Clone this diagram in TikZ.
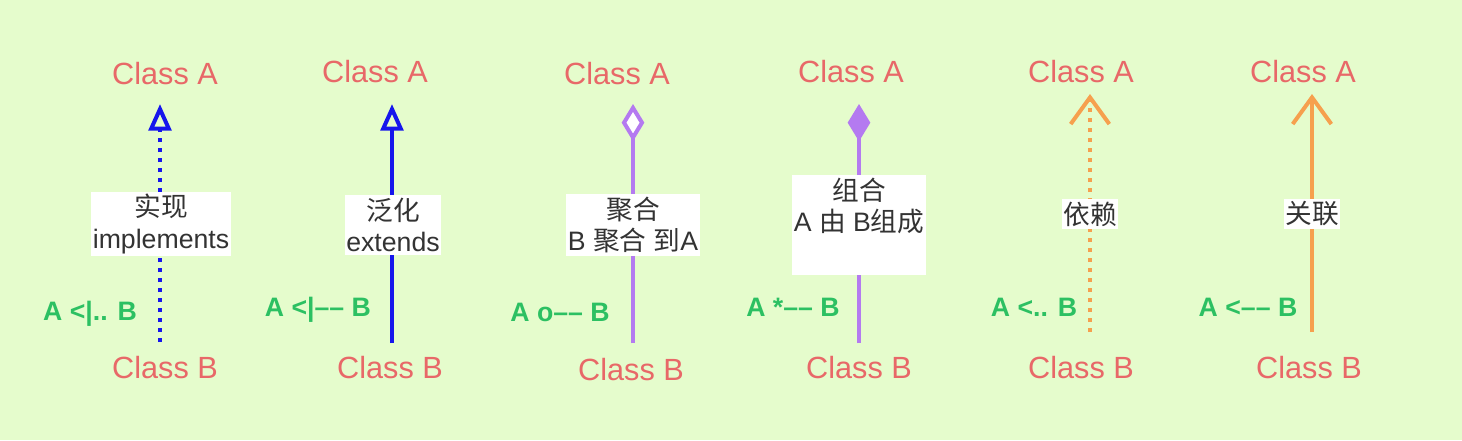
\documentclass[tikz,border=0pt]{standalone}
\usepackage{fontspec}
\setmainfont{Liberation Sans}
\newfontfamily\cjk{Noto Sans CJK SC}
\usetikzlibrary{arrows.meta}

\definecolor{bgGreen}{RGB}{229,252,204}
\definecolor{clsRed}{RGB}{232,104,104}
\definecolor{relGreen}{RGB}{44,192,98}
\definecolor{umlBlue}{RGB}{22,22,236}
\definecolor{umlPurple}{RGB}{180,122,240}
\definecolor{umlOrange}{RGB}{246,160,78}
\definecolor{noteGray}{RGB}{51,51,51}

\tikzset{
  cls/.style={text=clsRed, font=\fontsize{23}{27}\selectfont, inner sep=0pt},
  rel/.style={text=relGreen, font=\bfseries\fontsize{20}{24}\selectfont, inner sep=0pt, anchor=base},
  note/.style={fill=white, text=noteGray, align=center, font=\fontsize{20}{23.5}\selectfont, inner xsep=1pt, inner ysep=2pt},
  link/.style={line width=3pt},
  dots/.style={dash pattern=on 3pt off 4.5pt},
}

\begin{document}
\begin{tikzpicture}[x=0.75pt,y=0.75pt,yscale=-1,xscale=1]
%Shape: background
\fill [bgGreen] (0,0) rectangle (1462,440);
\useasboundingbox (0,0) rectangle (1462,440);

%Realization: A <|.. B
\node [cls] (implA) at (165,74) {Class A};
\node [cls] (implB) at (165,368) {Class B};
\coordinate (implTop) at (160,104);
\coordinate (implBot) at (160,342);
\draw [link, dots, umlBlue, -{Triangle[open, length=20pt, width=17pt]}] (implBot) -- (implTop);
\node [note] (implNote) at (161,224) {{\cjk 实现}\\implements};
\node [rel] (implRel) at (90,320) {A <|.. B};

%Generalization: A <|-- B
\node [cls] (genA) at (375,72) {Class A};
\node [cls] (genB) at (390,368) {Class B};
\coordinate (genTop) at (392,104);
\coordinate (genBot) at (392,343);
\draw [link, umlBlue, -{Triangle[open, length=20pt, width=17pt]}] (genBot) -- (genTop);
\node [note] (genNote) at (393,225) {{\cjk 泛化}\\extends};
\node [rel] (genRel) at (318,316) {A <|\textendash\textendash\ B};

%Aggregation: A o-- B
\node [cls] (aggA) at (617,74) {Class A};
\node [cls] (aggB) at (631,370) {Class B};
\coordinate (aggTop) at (633,104);
\coordinate (aggBot) at (633,343);
\draw [link, umlPurple, -{Diamond[open, fill=white, length=28pt, width=17pt]}] (aggBot) -- (aggTop);
\node [note] (aggNote) at (633,225) {{\cjk 聚合}\\B {\cjk 聚合} {\cjk 到}A};
\node [rel] (aggRel) at (560,321) {A o\textendash\textendash\ B};

%Composition: A *-- B
\node [cls] (compA) at (851,72) {Class A};
\node [cls] (compB) at (859,368) {Class B};
\coordinate (compTop) at (859,104);
\coordinate (compBot) at (859,343);
\draw [link, umlPurple, -{Diamond[length=28pt, width=17pt]}] (compBot) -- (compTop);
\node [note] (compNote) at (859,225) {{\cjk 组合}\\A {\cjk 由} B{\cjk 组成}\\ \strut};
\node [rel] (compRel) at (793,316) {A *\textendash\textendash\ B};

%Dependency: A <.. B
\node [cls] (depA) at (1081,72) {Class A};
\node [cls] (depB) at (1081,368) {Class B};
\coordinate (depTop) at (1090,94);
\coordinate (depBot) at (1090,332);
\draw [link, dots, umlOrange, -{Straight Barb[length=20pt, width=29pt]}] (depBot) -- (depTop);
\node [note] (depNote) at (1090,214) {{\cjk 依赖}};
\node [rel] (depRel) at (1034,316) {A <.. B};

%Association: A <-- B
\node [cls] (assA) at (1303,72) {Class A};
\node [cls] (assB) at (1309,368) {Class B};
\coordinate (assTop) at (1312,94);
\coordinate (assBot) at (1312,332);
\draw [link, umlOrange, -{Straight Barb[length=20pt, width=29pt]}] (assBot) -- (assTop);
\node [note] (assNote) at (1312,214) {{\cjk 关联}};
\node [rel] (assRel) at (1248,316) {A <\textendash\textendash\ B};

\end{tikzpicture}
\end{document}
